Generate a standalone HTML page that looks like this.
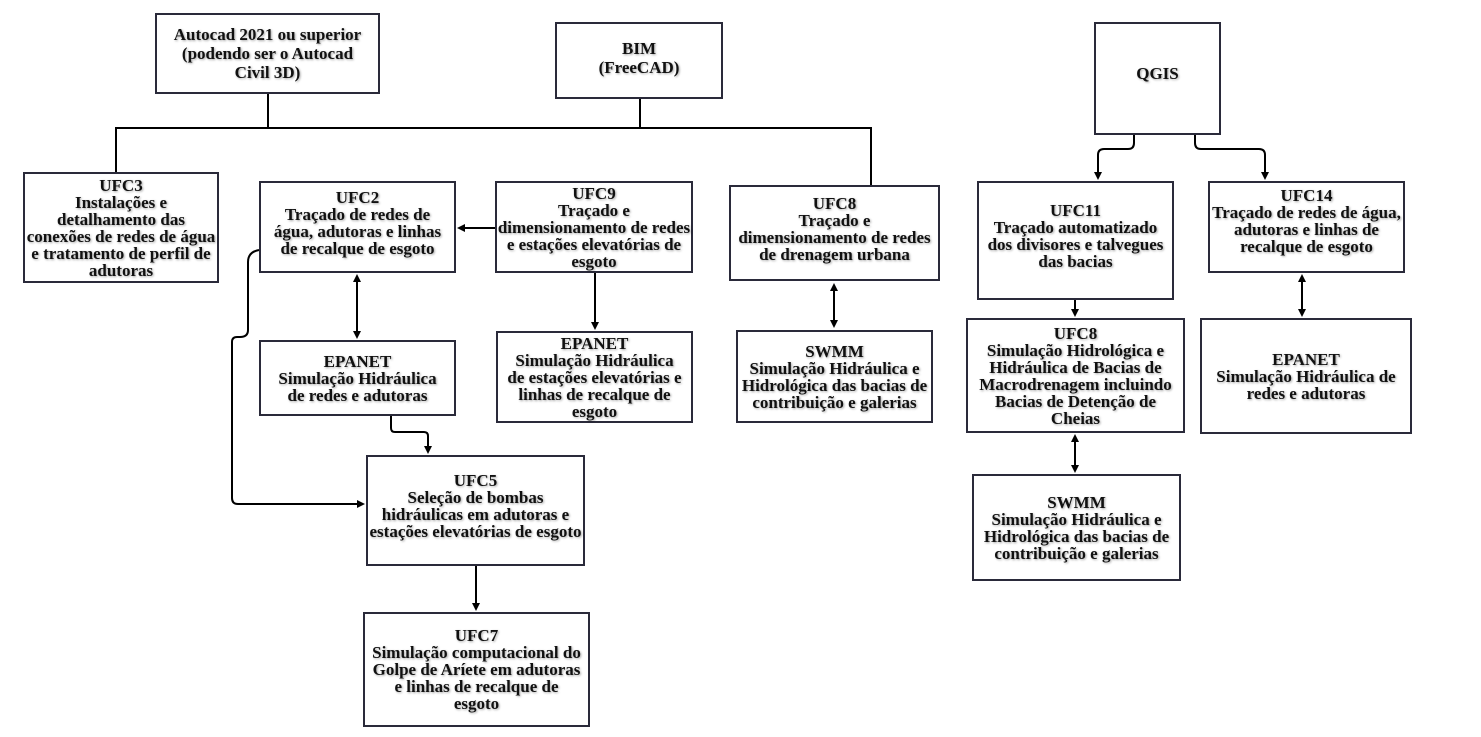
<!DOCTYPE html>
<html><head><meta charset="utf-8"><style>
body{margin:0;width:1481px;height:737px;background:#fff;position:relative;overflow:hidden;font-family:"Liberation Serif",serif;}
.b{position:absolute;box-sizing:border-box;border:2px solid #2a2a3a;display:flex;align-items:center;justify-content:center;text-align:center;font-weight:bold;font-size:17px;line-height:17px;color:#111;text-shadow:1px 1px 2px rgba(0,0,0,.35);white-space:nowrap;}
svg{position:absolute;left:0;top:0}
</style></head><body>
<svg width="1481" height="737" fill="none" stroke="#000" stroke-width="2">
<defs><marker id="a" markerWidth="8" markerHeight="8" refX="6" refY="4" orient="auto-start-reverse" markerUnits="userSpaceOnUse"><path d="M0,0 L8,4 L0,8z" fill="#000" stroke="none"/></marker></defs>
<path d="M116,172 V128 H871 V185 M268,94 V128 M640,98 V128"/>
<path d="M495,228 H459" marker-end="url(#a)"/>
<path d="M357,276 V337" marker-start="url(#a)" marker-end="url(#a)"/>
<path d="M595,272 V328" marker-end="url(#a)"/>
<path d="M391,415 V428 Q391,432 395,432 H424 Q428,432 428,436 V452" marker-end="url(#a)"/>
<path d="M259,250 Q248,252 248,262 V330 Q248,337 240,337 H237 Q232,337 232,342 V498 Q232,504 238,504 H363" marker-end="url(#a)"/>
<path d="M476,565 V609" marker-end="url(#a)"/>
<path d="M834,285 V326" marker-start="url(#a)" marker-end="url(#a)"/>
<path d="M1134,135 V143 Q1134,149 1128,149 H1104 Q1098,149 1098,155 V178" marker-end="url(#a)"/>
<path d="M1195,135 V143 Q1195,149 1201,149 H1259 Q1265,149 1265,155 V178" marker-end="url(#a)"/>
<path d="M1075,300 V315" marker-end="url(#a)"/>
<path d="M1075,436 V471" marker-start="url(#a)" marker-end="url(#a)"/>
<path d="M1302,276 V315" marker-start="url(#a)" marker-end="url(#a)"/>
</svg>
<div class="b" style="left:155px;top:13px;width:225px;height:81px;line-height:19px">Autocad 2021 ou superior<br>(podendo ser o Autocad<br>Civil 3D)</div>
<div class="b" style="left:555px;top:22px;width:168px;height:77px;line-height:19px;padding-bottom:6px">BIM<br>(FreeCAD)</div>
<div class="b" style="left:1094px;top:22px;width:127px;height:113px;padding-bottom:10px">QGIS</div>
<div class="b" style="left:23px;top:172px;width:196px;height:111px">UFC3<br>Instalações e<br>detalhamento das<br>conexões de redes de água<br>e tratamento de perfil de<br>adutoras</div>
<div class="b" style="left:259px;top:181px;width:197px;height:92px;padding-bottom:8px">UFC2<br>Traçado de redes de<br>água, adutoras e linhas<br>de recalque de esgoto</div>
<div class="b" style="left:495px;top:181px;width:198px;height:92px">UFC9<br>Traçado e<br>dimensionamento de redes<br>e estações elevatórias de<br>esgoto</div>
<div class="b" style="left:729px;top:185px;width:211px;height:96px;padding-bottom:8px">UFC8<br>Traçado e<br>dimensionamento de redes<br>de drenagem urbana</div>
<div class="b" style="left:977px;top:181px;width:197px;height:119px;padding-bottom:10px">UFC11<br>Traçado automatizado<br>dos divisores e talvegues<br>das bacias</div>
<div class="b" style="left:1208px;top:181px;width:197px;height:92px;padding-bottom:12px">UFC14<br>Traçado de redes de água,<br>adutoras e linhas de<br>recalque de esgoto</div>
<div class="b" style="left:259px;top:340px;width:197px;height:76px">EPANET<br>Simulação Hidráulica<br>de redes e adutoras</div>
<div class="b" style="left:496px;top:331px;width:197px;height:92px">EPANET<br>Simulação Hidráulica<br>de estações elevatórias e<br>linhas de recalque de<br>esgoto</div>
<div class="b" style="left:736px;top:330px;width:197px;height:93px">SWMM<br>Simulação Hidráulica e<br>Hidrológica das bacias de<br>contribuição e galerias</div>
<div class="b" style="left:966px;top:318px;width:219px;height:115px">UFC8<br>Simulação Hidrológica e<br>Hidráulica de Bacias de<br>Macrodrenagem incluindo<br>Bacias de Detenção de<br>Cheias</div>
<div class="b" style="left:1200px;top:318px;width:212px;height:116px">EPANET<br>Simulação Hidráulica de<br>redes e adutoras</div>
<div class="b" style="left:366px;top:455px;width:219px;height:111px;padding-bottom:10px">UFC5<br>Seleção de bombas<br>hidráulicas em adutoras e<br>estações elevatórias de esgoto</div>
<div class="b" style="left:363px;top:612px;width:227px;height:115px">UFC7<br>Simulação computacional do<br>Golpe de Aríete em adutoras<br>e linhas de recalque de<br>esgoto</div>
<div class="b" style="left:972px;top:474px;width:209px;height:107px">SWMM<br>Simulação Hidráulica e<br>Hidrológica das bacias de<br>contribuição e galerias</div>
</body></html>
